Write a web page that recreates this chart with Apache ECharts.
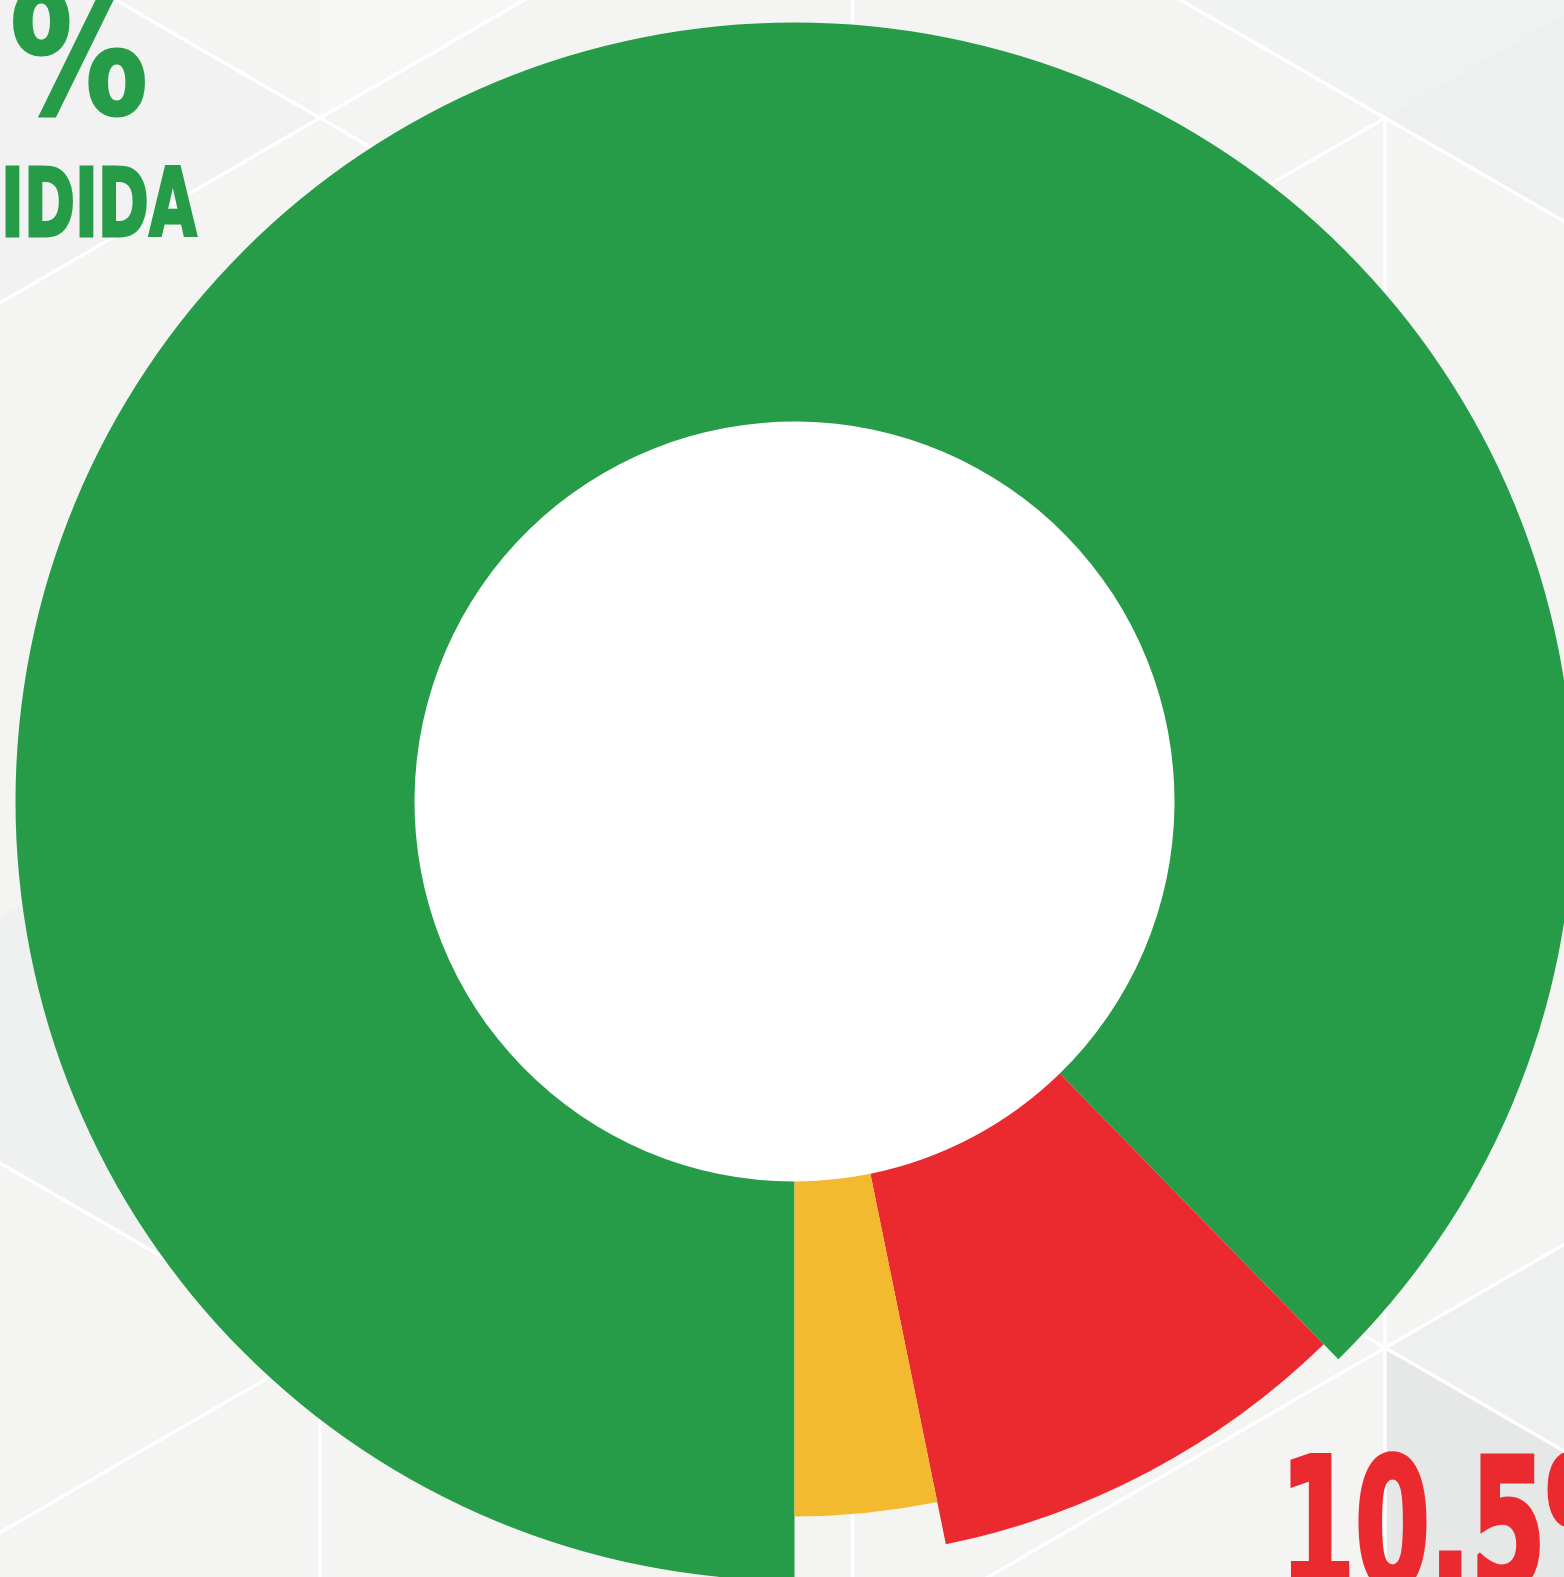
<!DOCTYPE html>
<html>
<head>
    <meta charset="utf-8">
    <title>Dona</title>
    <script src="https://cdn.jsdelivr.net/npm/echarts@6/dist/echarts.min.js"></script>
    <style>
        html, body { margin: 0; padding: 0; background: #f4f4f3; }
        #chart { width: 1564px; height: 1577px; }
    </style>
</head>
<body>
<div id="chart"></div>
<script type="text/javascript">
    // datos (sentido horario desde las 6)
    var categorias = ['Verde', 'Rojo', 'Amarillo'];
    var valores = [87.7, 9.1, 3.2];
    var textos = ['%', 'IDIDA', '10.5%'];

    // estilo
    var colores = ['#269c48', '#ea2a2f', '#f4ba2f'];
    var radioExterior = [779, 758, 715];
    var radioInterior = 380;
    var centro = [794.5, 801.5];

    var myChart = echarts.init(document.getElementById('chart'));

    // anillos: uno por categoria, mismo reparto de angulos
    var series = categorias.map(function (nombre, i) {
        return {
            type: 'pie',
            center: centro,
            radius: [radioInterior, radioExterior[i]],
            startAngle: 270,
            clockwise: true,
            silent: true,
            animation: false,
            label: {show: false},
            labelLine: {show: false},
            emphasis: {disabled: true},
            data: categorias.map(function (c, j) {
                return {
                    name: c,
                    value: valores[j],
                    itemStyle: {color: j === i ? colores[j] : 'rgba(0,0,0,0)', borderWidth: 0}
                };
            })
        };
    });

    // fondo: red de triangulos (nodos cada 532.5 px en x)
    var t30 = Math.tan(Math.PI / 6);
    function nodo(col, fila) {
        // col: columna vertical, fila: medio paso vertical
        var x = 320 + 532.5 * col;
        return [x, 118 + 532.5 * t30 * fila];
    }
    var fondo = [{type: 'rect', shape: {x: 0, y: 0, width: 1564, height: 1577}, style: {fill: '#f4f4f3'}}];
    var sombras = [
        [nodo(2, 0), nodo(3, -1), nodo(3, 1), '#eeefef'],
        [nodo(2, 0), nodo(3, -1), nodo(2, -2), '#f0f1f1'],
        [nodo(2, 0), nodo(1, -1), nodo(2, -2), '#f1f2f2'],
        [nodo(2, 4), nodo(3, 5), nodo(2, 6), '#e6e7e7'],
        [nodo(2, 4), nodo(3, 3), nodo(3, 5), '#eeefef'],
        [nodo(0, 4), nodo(-1, 3), nodo(0, 2), '#eff0f0'],
        [nodo(0, 0), nodo(1, -1), nodo(0, -2), '#f7f7f6'],
        [nodo(0, 0), nodo(-1, -1), nodo(-1, 1), '#f2f2f2']
    ];
    sombras.forEach(function (t) {
        fondo.push({type: 'polygon', shape: {points: [t[0], t[1], t[2]]}, style: {fill: t[3]}});
    });
    var tramos = [
        [nodo(-1, -1), nodo(1, 1)],
        [nodo(-1, 1), nodo(1, -1)],
        [nodo(1, -1), nodo(3, 1)],
        [nodo(2, 0), nodo(1, 1)],
        [nodo(2, 0), nodo(2, 2)],
        [nodo(1, -1), nodo(1, 1)],
        [nodo(0, 4), nodo(-1, 3)],
        [nodo(-1, 5), nodo(1, 3)],
        [nodo(0, 4), nodo(0, 6)],
        [nodo(1, 3), nodo(1, 5)],
        [nodo(1, 5), nodo(3, 3)],
        [nodo(2, 4), nodo(2, 6)],
        [nodo(2, 2), nodo(2, 4)],
        [nodo(1, 3), nodo(3, 5)]
    ];
    tramos.forEach(function (s) {
        fondo.push({
            type: 'line',
            shape: {x1: s[0][0], y1: s[0][1], x2: s[1][0], y2: s[1][1]},
            style: {stroke: '#ffffff', lineWidth: 3.5, opacity: 0.95}
        });
    });
    // hueco blanco
    fondo.push({type: 'circle', shape: {cx: centro[0], cy: centro[1], r: radioInterior + 1}, style: {fill: '#ffffff'}});

    var fuente = '"Liberation Sans Narrow", "DejaVu Sans Condensed", "Roboto", sans-serif';
    fondo.push({type: 'text', x: 148, y: -15, scaleX: 0.9, style: {text: textos[0], font: 'bold 170px ' + fuente, fill: colores[0], stroke: colores[0], lineWidth: 3, align: 'right', verticalAlign: 'top'}});
    fondo.push({type: 'text', x: 1, y: 164, scaleX: 0.72, style: {text: textos[1], font: 'bold 95px ' + fuente, fill: colores[0], stroke: colores[0], lineWidth: 3, align: 'left', verticalAlign: 'top'}});
    fondo.push({type: 'text', x: 1280, y: 1450, scaleX: 0.665, style: {text: textos[2], font: 'bold 180px ' + fuente, fill: colores[1], stroke: colores[1], lineWidth: 5, align: 'left', verticalAlign: 'top'}});

    myChart.setOption({
        animation: false,
        graphic: {elements: fondo},
        series: series
    });
</script>
</body>
</html>
